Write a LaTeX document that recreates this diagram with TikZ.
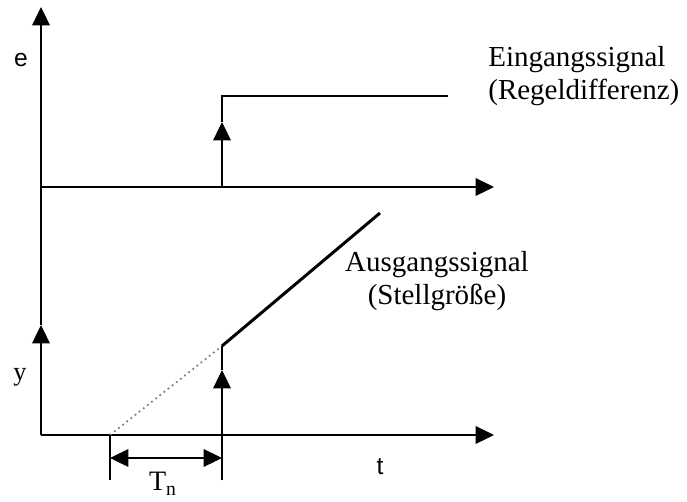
\documentclass[tikz,border=0pt]{standalone}
\usepackage{fontspec}
\setmainfont{Liberation Serif}
\newfontfamily\axisfont{Liberation Sans}
\usepackage{tikz}
\usetikzlibrary{arrows.meta}

\begin{document}
\begin{tikzpicture}[
  x=0.02cm, y=-0.02cm,
  tip/.style={-{Triangle[length=10.5pt, width=10pt]}},
  axis/.style={line width=1.1pt, tip},
  plain/.style={line width=1.1pt},
  ramp/.style={line width=1.7pt},
  helper/.style={line width=1pt, gray, dotted},
  dimline/.style={line width=1.1pt, {Triangle[length=10.5pt, width=10pt]}-{Triangle[length=10.5pt, width=10pt]}},
  lbl/.style={font=\fontsize{16.5}{19}\selectfont, inner sep=0pt},
  axlbl/.style={font=\axisfont\fontsize{14}{16}\selectfont, inner sep=0pt}
]
  \useasboundingbox (0,0) rectangle (687,501);
  % reference points
  \coordinate (O) at (41,435);
  \coordinate (Ymid) at (41,325);
  \coordinate (Top) at (41,7);
  \coordinate (E0) at (41,187);
  \coordinate (Eend) at (494,187);
  \coordinate (Tend) at (494,435);
  \coordinate (S0) at (222,187);
  \coordinate (Smid) at (222,122);
  \coordinate (S1) at (222,96);
  \coordinate (S2) at (448,96);
  \coordinate (R0) at (110,435);
  \coordinate (R1) at (222,346);
  \coordinate (R2) at (380,213);
  \coordinate (Rmid) at (222,370);
  \coordinate (Rlow) at (222,480);
  \coordinate (Llow) at (110,480);
  \coordinate (D0) at (110,458);
  \coordinate (D1) at (222,458);

  % axes
  \draw[axis] (O) -- (Ymid);
  \draw[axis] (Ymid) -- (Top);
  \draw[axis] (E0) -- (Eend);
  \draw[axis] (O) -- (Tend);

  % input step
  \draw[axis] (S0) -- (Smid);
  \draw[plain] (Smid) -- (S1) -- (S2);

  % output
  \draw[helper] (R0) -- (R1);
  \draw[ramp] (R1) -- (R2);
  \draw[axis] (Rlow) -- (Rmid);
  \draw[plain] (Rmid) -- (R1);

  % T_n
  \draw[plain] (R0) -- (Llow);
  \draw[dimline] (D0) -- (D1);

  % labels
  \node[axlbl] (le) at (21,60) {e};
  \node[lbl, font=\fontsize{15}{18}\selectfont] (ly) at (20,377) {y};
  \node[axlbl] (lt) at (380,467) {t};
  \node[lbl, font=\fontsize{16}{18}\selectfont] (ltn) at (163,484) {T\textsubscript{n}};
  \node[lbl, anchor=west, align=left] (lin) at (488,76) {Eingangssignal\\(Regeldifferenz)};
  \node[lbl, align=center] (lout) at (437,281) {Ausgangssignal\\(Stellgröße)};
\end{tikzpicture}
\end{document}
